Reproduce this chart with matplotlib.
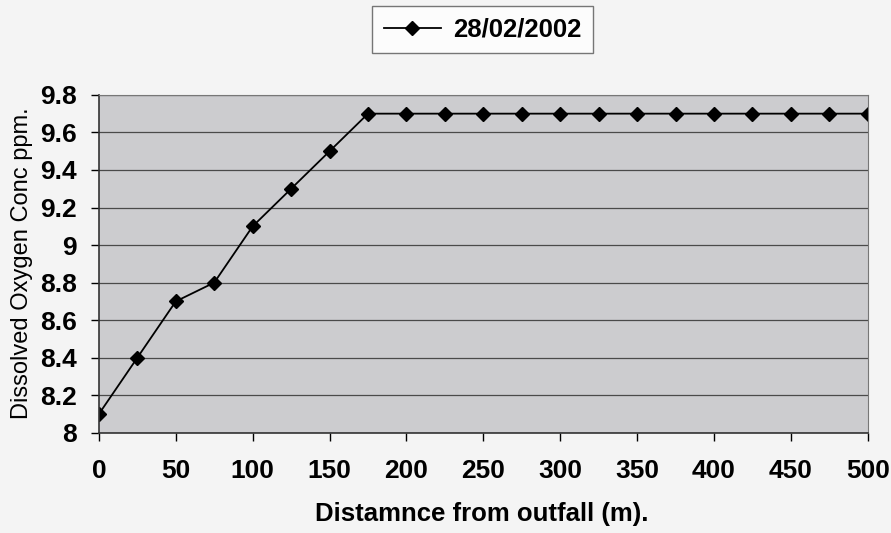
import matplotlib.pyplot as plt

# distancia (m) e OD (ppm)
distancia = [0, 25, 50, 75, 100, 125, 150, 175, 200, 225, 250, 275, 300,
             325, 350, 375, 400, 425, 450, 475, 500]
oxigenio = [8.1, 8.4, 8.7, 8.8, 9.1, 9.3, 9.5, 9.7, 9.7, 9.7, 9.7, 9.7, 9.7,
            9.7, 9.7, 9.7, 9.7, 9.7, 9.7, 9.7, 9.7]
rotulos_x = [0, 50, 100, 150, 200, 250, 300, 350, 400, 450, 500]
rotulos_y = [8, 8.2, 8.4, 8.6, 8.8, 9, 9.2, 9.4, 9.6, 9.8]

plt.rcParams['font.family'] = ['Liberation Sans', 'DejaVu Sans']

fig = plt.figure(figsize=(8.91, 5.33), dpi=100, facecolor='#f4f4f4')
ax = fig.add_axes([0.111, 0.188, 0.863, 0.634])
ax.set_facecolor('#cccccf')

ax.plot(distancia, oxigenio, color='black', lw=1.3, marker='D', ms=7,
        label='28/02/2002')

ax.set_xlim(0, 500)
ax.set_ylim(8, 9.8)
ax.set_xticks(rotulos_x)
ax.set_xticklabels([str(v) for v in rotulos_x], fontsize=19, fontweight='bold')
ax.set_yticks(rotulos_y)
ax.set_yticklabels([f'{v:g}' for v in rotulos_y], fontsize=19, fontweight='bold')
ax.tick_params(axis='x', length=6, width=1, pad=13)
ax.tick_params(axis='y', length=6, width=1, pad=10)

ax.grid(True, axis='y', color='#4a4a4a', lw=0.9)
ax.set_axisbelow(True)
for lado in ['top', 'right']:
    ax.spines[lado].set_color('#777777')
for lado in ['left', 'bottom']:
    ax.spines[lado].set_color('#333333')
    ax.spines[lado].set_linewidth(1.2)

fig.text(0.541, 0.036, 'Distamnce from outfall (m).', fontsize=18.5,
         fontweight='bold', ha='center', va='center')
fig.text(0.025, 0.507, 'Dissolved Oxygen Conc ppm.', fontsize=17,
         rotation=90, ha='center', va='center')

leg = fig.legend(loc='center', bbox_to_anchor=(0.542, 0.944),
                 prop={'weight': 'bold', 'size': 18.5}, frameon=True, fancybox=False,
                 edgecolor='#555555', handlelength=2.2, handletextpad=0.5,
                 borderpad=0.45, borderaxespad=0)
leg.get_frame().set_facecolor('white')

plt.savefig('out.png', dpi=100, facecolor=fig.get_facecolor())
